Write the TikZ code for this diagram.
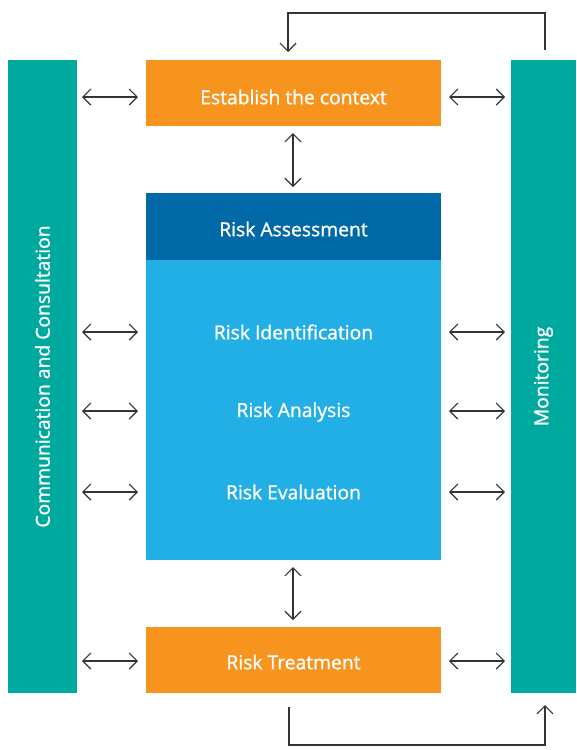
\documentclass[tikz,border=0pt]{standalone}
\usepackage{fontspec}
\setmainfont{Open Sans}
\newfontfamily\lblfont[FakeBold=1.2]{Open Sans}
\usetikzlibrary{arrows.meta}
\definecolor{orangeC}{HTML}{F7941E}
\definecolor{tealC}{HTML}{00A99D}
\definecolor{darkblueC}{HTML}{0069A6}
\definecolor{lightblueC}{HTML}{22AFE6}
\definecolor{lineC}{HTML}{333333}
\begin{document}
\begin{tikzpicture}[x=1pt,y=-1pt,
  lbl/.style={text=white, font=\lblfont\fontsize{19.3}{23}\selectfont, inner sep=0pt},
  conn/.style={draw=lineC, line width=1.2pt, {Straight Barb[length=8pt,width=16pt]}-{Straight Barb[length=8pt,width=16pt]}},
  loop/.style={draw=lineC, line width=1.2pt, -{Straight Barb[length=8pt,width=16pt]}}]
\useasboundingbox (0,0) rectangle (576,750);
% bars
\fill[tealC] (8,60) rectangle (77,693);
\fill[tealC] (511,60) rectangle (576,693);
\node[lbl, rotate=90] (cc) at (42.5,376.5) {Communication and Consultation};
\node[lbl, rotate=90] (mon) at (543.5,376.5) {Monitoring};
% boxes
\fill[orangeC] (146,60) rectangle (441,126);
\node[lbl] (est) at (293.5,97) {Establish the context};
\fill[darkblueC] (146,193) rectangle (441,260);
\node[lbl] (ra) at (293.5,229) {Risk Assessment};
\fill[lightblueC] (146,260) rectangle (441,560);
\node[lbl] (rid) at (293.5,332) {Risk Identification};
\node[lbl] (ran) at (293.5,412) {Risk Analysis};
\node[lbl] (rev) at (293.5,492) {Risk Evaluation};
\fill[orangeC] (146,627) rectangle (441,693);
\node[lbl] (rt) at (293.5,662) {Risk Treatment};
% horizontal arrows
\foreach \y in {97,332,411,492,661}{
  \coordinate (la) at (82,\y); \coordinate (lb) at (138,\y);
  \coordinate (ra) at (449,\y); \coordinate (rb) at (505,\y);
  \draw[conn] (la) -- (lb);
  \draw[conn] (ra) -- (rb);
}
% vertical arrows
\coordinate (v1a) at (293,133); \coordinate (v1b) at (293,187);
\coordinate (v2a) at (293,567); \coordinate (v2b) at (293,620);
\draw[conn] (v1a) -- (v1b);
\draw[conn] (v2a) -- (v2b);
% loops
\coordinate (t1) at (545,50); \coordinate (t2) at (288,52);
\draw[loop] (t1) -- (545,13) -- (288,13) -- (t2);
\coordinate (b1) at (289,707); \coordinate (b2) at (545,705);
\draw[loop] (b1) -- (289,745) -- (545,745) -- (b2);
\end{tikzpicture}
\end{document}
